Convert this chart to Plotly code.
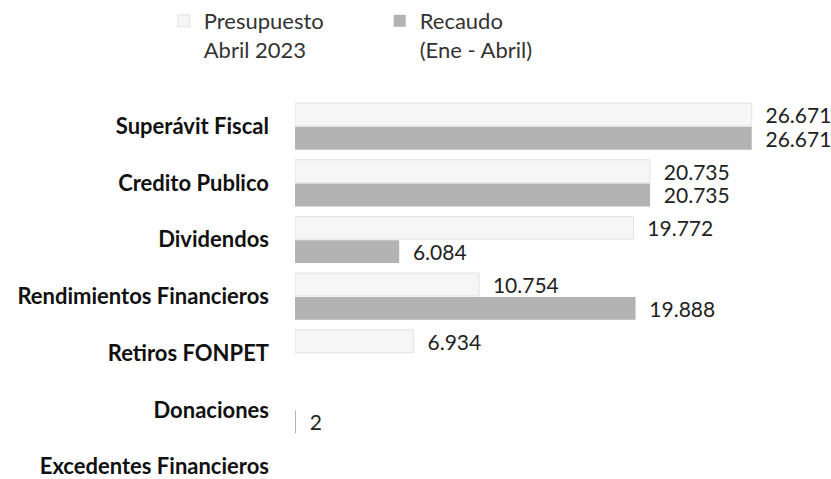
import plotly.graph_objects as go

# Ingresos de capital (millones de pesos)
categorias = [
    "Superávit Fiscal",
    "Credito Publico",
    "Dividendos",
    "Rendimientos Financieros",
    "Retiros FONPET",
    "Donaciones",
    "Excedentes Financieros",
]
presupuesto = [26671, 20735, 19772, 10754, 6934, None, None]
recaudo = [26671, 20735, 6084, 19888, None, 2, None]

COLOUR_PRESUPUESTO = "#f6f6f6"
COLOUR_RECAUDO = "#b3b3b3"
FONT = "Lato, 'Open Sans', sans-serif"
LABEL = "\u00a0\u00a0%{x:,}"

fig = go.Figure()
fig.add_trace(go.Bar(
    y=categorias, x=presupuesto,
    orientation="h",
    name="Presupuesto<br>Abril 2023",
    marker=dict(color=COLOUR_PRESUPUESTO, line=dict(color="#e2e2e2", width=1)),
    texttemplate=LABEL,
    textposition="outside",
    constraintext="none",
    textfont=dict(size=21, color="#222222"),
    cliponaxis=False,
))
fig.add_trace(go.Bar(
    y=categorias, x=recaudo,
    orientation="h",
    name="Recaudo<br>(Ene - Abril)",
    marker=dict(color=COLOUR_RECAUDO, line=dict(width=0)),
    texttemplate=LABEL,
    textposition="outside",
    constraintext="none",
    textfont=dict(size=21, color="#222222"),
    cliponaxis=False,
))

fig.update_layout(
    width=831, height=479,
    margin=dict(l=295, r=0, t=98, b=0, autoexpand=False),
    barmode="group",
    bargap=0.16,
    bargroupgap=0.04,
    separators=",.",
    paper_bgcolor="white",
    plot_bgcolor="white",
    font=dict(family=FONT, size=21, color="#222222"),
    showlegend=True,
    legend=dict(
        orientation="h",
        xref="container", yref="container",
        x=0.197, y=1,
        xanchor="left", yanchor="top",
        entrywidth=171, entrywidthmode="pixels",
        font=dict(size=22, color="#333333"),
        valign="top",
        traceorder="normal",
    ),
)
fig.update_xaxes(
    range=[0, 31300],
    visible=False,
    automargin=False,
)
fig.update_yaxes(
    categoryorder="array", categoryarray=categorias,
    range=[6.22, -0.5],
    automargin=False,
    showgrid=False, showline=False, zeroline=False,
    ticks="", ticklabelstandoff=25,
    tickfont=dict(family=FONT, size=22, color="#111111", weight="bold"),
)

# drop the default 8px body margin so the figure fills the window
fig.write_html(
    "out.html",
    config={"displayModeBar": False},
    post_script="document.body.style.margin='0';",
)
